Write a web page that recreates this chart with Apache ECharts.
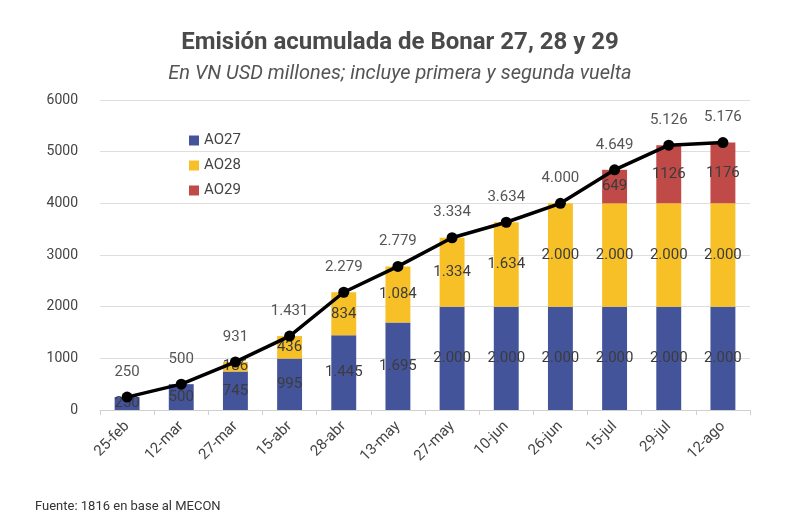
<!DOCTYPE html>
<html>
<head>
<meta charset="utf-8">
<script src="https://cdn.jsdelivr.net/npm/echarts@6/dist/echarts.min.js"></script>
<style>
  html, body { margin: 0; padding: 0; background: #fff; }
  #chart { width: 800px; height: 516px; }
</style>
</head>
<body>
<div id="chart"></div>
<script>
// fechas de licitación
var fechas = ['25-feb', '12-mar', '27-mar', '15-abr', '28-abr', '13-may', '27-may', '10-jun', '26-jun', '15-jul', '29-jul', '12-ago'];
// emisión por bono (VN USD millones)
var ao27 = [250, 500, 745, 995, 1445, 1695, 2000, 2000, 2000, 2000, 2000, 2000];
var ao28 = [0, 0, 186, 436, 834, 1084, 1334, 1634, 2000, 2000, 2000, 2000];
var ao29 = [0, 0, 0, 0, 0, 0, 0, 0, 0, 649, 1126, 1176];
var total = [250, 500, 931, 1431, 2279, 2779, 3334, 3634, 4000, 4649, 5126, 5176];
var yTicks = [0, 1000, 2000, 3000, 4000, 5000, 6000];

var fuente = 'Roboto, "Noto Sans", sans-serif';

// 1.445 -> separador de miles con punto
var conPunto = function (v) {
    return String(v).replace(/\B(?=(\d{3})+(?!\d))/g, '.');
};

var chart = echarts.init(document.getElementById('chart'));

var etiqueta = function (fmt) {
    return {
        show: true,
        position: 'inside',
        color: '#3c3c3c',
        fontFamily: fuente,
        fontSize: 15,
        formatter: function (p) {
            return p.value ? fmt(p.value) : '';
        }
    };
};

var option = {
    backgroundColor: '#fff',
    animation: false,
    title: [
        {
            text: 'Emisión acumulada de Bonar 27, 28 y 29',
            left: 'center',
            top: 26,
            textStyle: { fontFamily: fuente, fontSize: 24, fontWeight: 'bold', color: '#4a4a4a' }
        },
        {
            text: 'En VN USD millones; incluye primera y segunda vuelta',
            left: 'center',
            top: 59,
            textStyle: { fontFamily: fuente, fontSize: 20, fontStyle: 'italic', fontWeight: 'normal', color: '#555' }
        },
        {
            text: 'Fuente: 1816 en base al MECON',
            left: 30,
            top: 495,
            textStyle: { fontFamily: fuente, fontSize: 13, fontWeight: 'normal', color: '#333' }
        }
    ],
    legend: {
        data: ['AO27', 'AO28', 'AO29'],
        orient: 'vertical',
        left: 184,
        top: 128,
        itemWidth: 10,
        itemHeight: 10,
        itemGap: 10,
        icon: 'rect',
        textStyle: { fontFamily: fuente, fontSize: 15, color: '#444' }
    },
    grid: { left: 100, right: 50, top: 100, bottom: 106 },
    xAxis: {
        type: 'category',
        data: fechas,
        axisLine: { lineStyle: { color: '#d0d0d0' } },
        axisTick: { show: true, lineStyle: { color: '#d0d0d0' } },
        axisLabel: { rotate: 45, fontFamily: fuente, fontSize: 15, color: '#444', margin: 14 }
    },
    yAxis: {
        type: 'value',
        min: yTicks[0],
        max: yTicks[yTicks.length - 1],
        interval: 1000,
        axisLine: { show: false },
        axisTick: { show: false },
        axisLabel: {
            fontFamily: fuente, fontSize: 14, color: '#444', margin: 22,
            formatter: function (v) { return String(v); }
        },
        splitLine: { lineStyle: { color: '#dedede' } }
    },
    series: [
        {
            name: 'AO27',
            type: 'bar',
            stack: 'emision',
            barWidth: '46%',
            itemStyle: { color: '#44549b' },
            label: etiqueta(conPunto),
            data: ao27
        },
        {
            name: 'AO28',
            type: 'bar',
            stack: 'emision',
            itemStyle: { color: '#f7c026' },
            label: etiqueta(conPunto),
            data: ao28
        },
        {
            name: 'AO29',
            type: 'bar',
            stack: 'emision',
            itemStyle: { color: '#bf4a48' },
            label: etiqueta(String),
            data: ao29
        },
        {
            name: 'Total',
            type: 'line',
            data: total,
            symbol: 'circle',
            symbolSize: 11,
            itemStyle: { color: '#000' },
            lineStyle: { color: '#000', width: 3.5 },
            z: 5,
            label: {
                show: true,
                position: 'top',
                distance: 12,
                color: '#555',
                fontFamily: fuente,
                fontSize: 15,
                formatter: function (p) { return conPunto(p.value); }
            }
        }
    ]
};

chart.setOption(option);
window.onresize = function () {
    chart.resize();
};
</script>
</body>
</html>
